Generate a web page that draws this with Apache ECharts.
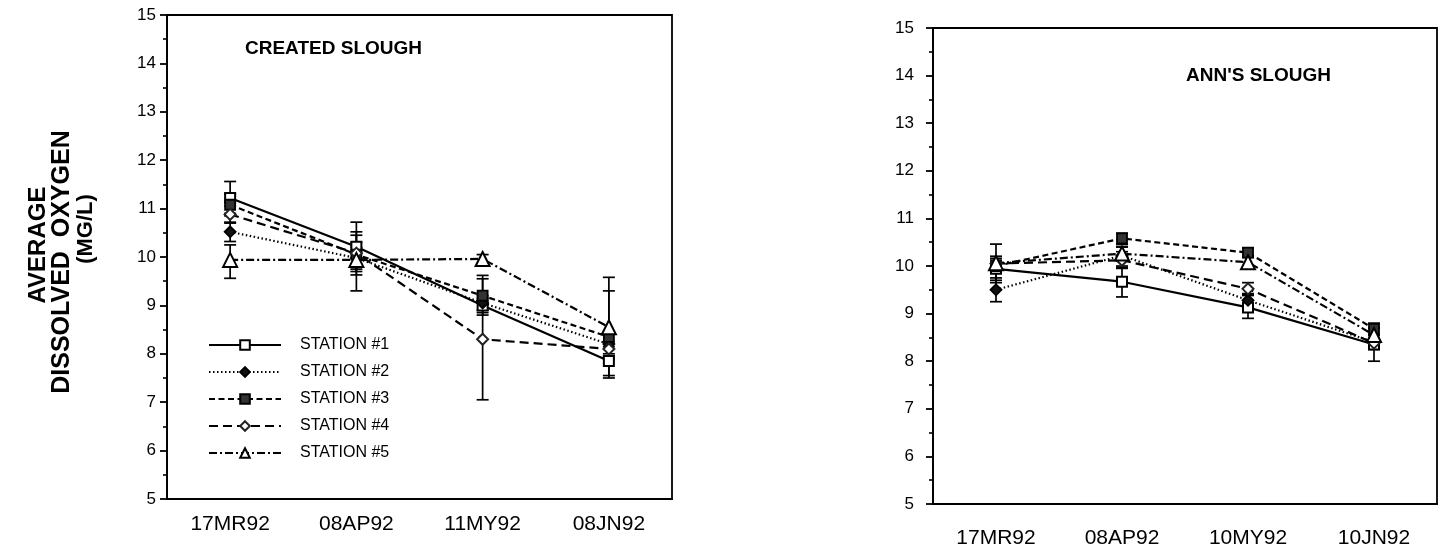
<!DOCTYPE html>
<html><head><meta charset="utf-8">
<script src="https://cdn.jsdelivr.net/npm/echarts@6/dist/echarts.min.js"></script>
<style>html,body{margin:0;padding:0;background:#fff}#c{width:1449px;height:552px}</style>
</head><body><div id="c"></div>
<script>
// ---- data ----
const leftCats = ['17MR92', '08AP92', '11MY92', '08JN92'];
const rightCats = ['17MR92', '08AP92', '10MY92', '10JN92'];
const stationNames = ['STATION #1', 'STATION #2', 'STATION #3', 'STATION #4', 'STATION #5'];
const yTicks = { min: 5, max: 15, step: 1 };
const leftTitle = 'CREATED SLOUGH';
const rightTitle = "ANN'S SLOUGH";
const yTitleLines = ['AVERAGE', 'DISSOLVED  OXYGEN', '(MG/L)'];

// Created Slough means
const leftS1 = [11.22, 10.21, 9.0, 7.85];
const leftS2 = [10.52, 9.98, 9.05, 8.2];
const leftS3 = [11.08, 10.05, 9.2, 8.35];
const leftS4 = [10.88, 10.08, 8.3, 8.1];
const leftS5 = [9.94, 9.94, 9.96, 8.55];
// Created Slough error limits
const leftLo1 = [10.9, 9.7, 8.85, 7.55], leftHi1 = [11.56, 10.72, 9.15, 8.15];
const leftLo2 = [10.32, 9.75, 8.9, 8.0], leftHi2 = [10.72, 10.2, 9.2, 8.4];
const leftLo3 = [10.85, 9.63, 8.8, 7.9], leftHi3 = [11.3, 10.45, 9.62, 9.3];
const leftLo4 = [10.7, 9.85, 7.05, 7.95], leftHi4 = [11.05, 10.3, 9.55, 8.25];
const leftLo5 = [9.56, 9.3, 9.85, 7.5], leftHi5 = [10.25, 10.52, 10.05, 9.58];

// Ann's Slough means
const rightS1 = [9.94, 9.67, 9.13, 8.35];
const rightS2 = [9.5, 10.22, 9.28, 8.4];
const rightS3 = [10.0, 10.58, 10.28, 8.68];
const rightS4 = [10.05, 10.12, 9.52, 8.38];
const rightS5 = [10.06, 10.26, 10.08, 8.55];
// Ann's Slough error limits
const rightLo1 = [9.7, 9.35, 8.9, 8.0], rightHi1 = [10.2, 9.97, 9.38, 8.7];
const rightLo2 = [9.25, 10.0, 9.15, 8.25], rightHi2 = [9.75, 10.4, 9.42, 8.55];
const rightLo3 = [9.85, 10.45, 10.18, 8.55], rightHi3 = [10.15, 10.69, 10.38, 8.8];
const rightLo4 = [9.9, 9.95, 9.4, 8.25], rightHi4 = [10.2, 10.3, 9.65, 8.5];
const rightLo5 = [9.65, 10.1, 9.95, 8.4], rightHi5 = [10.46, 10.4, 10.2, 8.7];

// ---- styles ----
const FONT = '"Liberation Sans", Arial, Helvetica, sans-serif';
const lineTypes = ['solid', [1.5, 2.5], [6, 3.5], [9, 5], [8, 3, 2, 3]];
const symbols = ['emptyRect', 'diamond', 'rect', 'emptyDiamond', 'emptyTriangle'];
const symbolSizes = [10, 11, 10, 11, 14];
const symbolColors = ['#000', '#111', '#333', '#222', '#000'];

const leftMeans = [leftS1, leftS2, leftS3, leftS4, leftS5];
const leftLos = [leftLo1, leftLo2, leftLo3, leftLo4, leftLo5];
const leftHis = [leftHi1, leftHi2, leftHi3, leftHi4, leftHi5];
const rightMeans = [rightS1, rightS2, rightS3, rightS4, rightS5];
const rightLos = [rightLo1, rightLo2, rightLo3, rightLo4, rightLo5];
const rightHis = [rightHi1, rightHi2, rightHi3, rightHi4, rightHi5];

function errRender(params, api) {
  const x = api.value(0), lo = api.value(1), hi = api.value(2);
  const a = api.coord([x, hi]), b = api.coord([x, lo]);
  const w = 6;
  const st = { stroke: '#000', lineWidth: 1.7 };
  return { type: 'group', children: [
    { type: 'line', shape: { x1: a[0], y1: a[1], x2: b[0], y2: b[1] }, style: st },
    { type: 'line', shape: { x1: a[0] - w, y1: a[1], x2: a[0] + w, y2: a[1] }, style: st },
    { type: 'line', shape: { x1: b[0] - w, y1: b[1], x2: b[0] + w, y2: b[1] }, style: st }
  ]};
}

const series = [];
function addChart(gi, means, los, his) {
  for (let i = 0; i < 5; i++) {
    series.push({
      type: 'custom', xAxisIndex: gi * 2, yAxisIndex: gi, z: 2, silent: true,
      renderItem: errRender, encode: { x: 0, y: [1, 2] },
      data: los[i].map((lo, k) => [k, lo, his[i][k]])
    });
  }
  for (let i = 0; i < 5; i++) {
    series.push({
      type: 'line', name: stationNames[i], xAxisIndex: gi * 2, yAxisIndex: gi, z: 3,
      data: means[i], symbol: symbols[i], symbolSize: symbolSizes[i],
      showAllSymbol: true,
      lineStyle: { color: '#000', width: 2.2, type: lineTypes[i] },
      itemStyle: { color: symbolColors[i], borderColor: '#000', borderWidth: 1.8 }
    });
  }
}
addChart(0, leftMeans, leftLos, leftHis);
addChart(1, rightMeans, rightLos, rightHis);

function xAxes(gi, cats, margin) {
  return [{
    type: 'category', gridIndex: gi, data: cats, position: 'bottom', boundaryGap: true,
    axisLine: { lineStyle: { color: '#000', width: 1.8 } },
    axisTick: { alignWithLabel: true, length: 7, lineStyle: { color: '#000', width: 1.8 } },
    axisLabel: { color: '#000', fontFamily: FONT, fontSize: 21, margin: margin }
  }, {
    type: 'category', gridIndex: gi, data: cats, position: 'bottom', offset: 0, boundaryGap: true,
    axisLine: { show: false },
    axisTick: { length: 4, lineStyle: { color: '#000', width: 1.8 } },
    axisLabel: { show: false }
  }];
}
function yAxis(gi, margin) {
  return {
    type: 'value', gridIndex: gi, min: yTicks.min, max: yTicks.max, interval: yTicks.step,
    axisLine: { show: true, lineStyle: { color: '#000', width: 1.8 } },
    axisTick: { show: true, length: 7, lineStyle: { color: '#000', width: 1.8 } },
    minorTick: { show: true, splitNumber: 2, length: 4, lineStyle: { color: '#000', width: 1.6 } },
    splitLine: { show: false },
    axisLabel: { color: '#000', fontFamily: FONT, fontSize: 17, margin: margin }
  };
}

const chart = echarts.init(document.getElementById('c'), null, { renderer: 'canvas' });
chart.setOption({
  backgroundColor: '#fff',
  animation: false,
  grid: [
    { left: 167, top: 15, width: 505, height: 484, show: true, borderColor: '#000', borderWidth: 1.8, backgroundColor: 'transparent' },
    { left: 933, top: 28, width: 504, height: 476, show: true, borderColor: '#000', borderWidth: 1.8, backgroundColor: 'transparent' }
  ],
  xAxis: [...xAxes(0, leftCats, 15), ...xAxes(1, rightCats, 24)],
  yAxis: [yAxis(0, 11), yAxis(1, 19)],
  legend: {
    data: stationNames, left: 208, top: 337, orient: 'vertical',
    itemWidth: 72, itemHeight: 12, itemGap: 11, padding: 0,
    textStyle: { color: '#000', fontFamily: FONT, fontSize: 16, padding: [0, 0, 0, 14] },
    selectedMode: false
  },
  title: [
    { text: leftTitle, left: 245, top: 39, padding: 0, textStyle: { fontFamily: FONT, fontSize: 19, fontWeight: 'bold', color: '#000' } },
    { text: rightTitle, left: 1186, top: 66, padding: 0, textStyle: { fontFamily: FONT, fontSize: 19, fontWeight: 'bold', color: '#000' } }
  ],
  graphic: [
    { type: 'text', x: 38, y: 245, rotation: Math.PI / 2, style: { text: yTitleLines[0], font: 'bold 24px ' + FONT, fill: '#000', align: 'center', verticalAlign: 'middle' } },
    { type: 'text', x: 62, y: 262, rotation: Math.PI / 2, style: { text: yTitleLines[1], font: 'bold 25px ' + FONT, fill: '#000', align: 'center', verticalAlign: 'middle' } },
    { type: 'text', x: 86, y: 229, rotation: Math.PI / 2, style: { text: yTitleLines[2], font: 'bold 22px ' + FONT, fill: '#000', align: 'center', verticalAlign: 'middle' } }
  ],
  series: series
});
</script>
</body></html>
